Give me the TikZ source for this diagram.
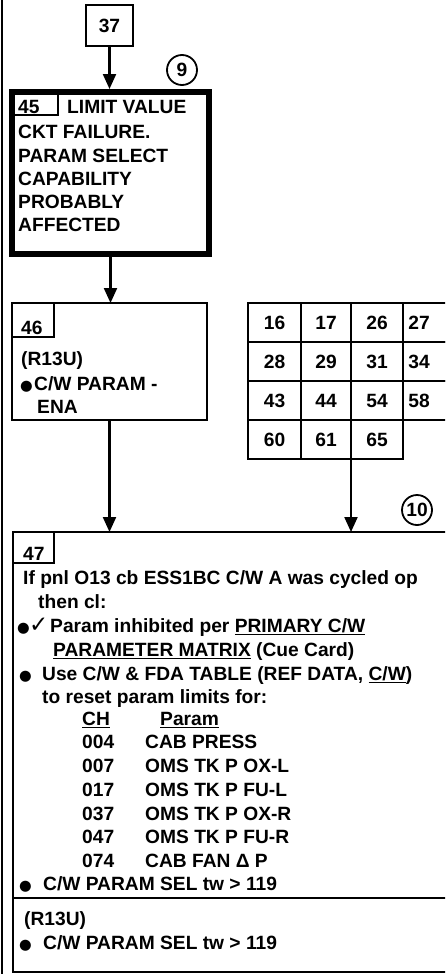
\documentclass[tikz,border=0pt]{standalone}
\usepackage{fontspec}
\setmainfont{Liberation Sans}
\newfontfamily\dvfont{DejaVu Sans}
\usetikzlibrary{arrows.meta,calc}
\newcommand{\fs}{\fontsize{19.2}{23}\selectfont\bfseries}
\newcommand{\bul}{{\dvfont\fontsize{14.5}{14.5}\selectfont ●}}
\newcommand{\chk}{{\dvfont\bfseries\fontsize{23}{23}\selectfont ✓}}
\newcommand{\ul}[1]{\setbox0\hbox{#1}\rlap{\rule[-3.2pt]{\wd0}{1.4pt}}\box0\relax}
\begin{document}
\begin{tikzpicture}[x=1pt,y=-1pt,
  txt/.style={anchor=base west, inner sep=0pt, font=\fs},
  boxthin/.style={draw, line width=1.8pt, anchor=north west, inner sep=0pt, outer sep=0pt},
  cell/.style={draw, line width=1.8pt, anchor=north west, inner sep=0pt, outer sep=0pt, minimum height=39pt, font=\fs},
  num/.style={inner sep=0pt, font=\fs},
  arr/.style={line width=2.2pt, -{Triangle[length=15pt,width=13pt]}},
  ring/.style={circle, draw, line width=1.8pt, minimum size=30pt, inner sep=0pt, font=\fs}]
\useasboundingbox (0,0) rectangle (445,974);
\clip (0,0) rectangle (445,974);

% page rule
\draw[line width=1.5pt] (2,-5) -- (2,980);

% 37 and 45
\node[draw, line width=2.2pt, minimum width=47pt, minimum height=41pt, inner sep=0pt, outer sep=0pt, font=\fs] (b37) at (109.5,25.5) {37};
\node[ring] (k9) at (182,70) {9};
\node[draw, line width=6pt, anchor=north west, minimum width=197pt, minimum height=162pt, inner sep=0pt] (b45) at (9,89) {};
\node[boxthin, minimum width=46pt, minimum height=23pt] (n45) at (12,92) {};
\node[txt] (t45) at (18,113) {45};
\node[txt] (t45a) at (67,113) {LIMIT VALUE};
\node[txt] (t45b) at (18,138) {CKT FAILURE.};
\node[txt] (t45c) at (18,162) {PARAM SELECT};
\node[txt] (t45d) at (18,185) {CAPABILITY};
\node[txt] (t45e) at (18,208) {PROBABLY};
\node[txt] (t45f) at (18,231) {AFFECTED};
\draw[arr] (b37.south) -- (b37.south |- b45.north);

% 46
\node[boxthin, minimum width=195pt, minimum height=117pt] (b46) at (12,303) {};
\node[boxthin, minimum width=42pt, minimum height=34pt] (n46) at (12,303) {};
\node[txt] (t46) at (21,334) {46};
\node[txt] (t46a) at (21,365) {(R13U)};
\node[txt] (t46b) at (20,390) {\bul};
\node[txt] (t46c) at (34,390) {C/W PARAM -};
\node[txt] (t46d) at (37,413) {ENA};
\draw[arr] (b45.south) -- (b45.south |- b46.north);

% grid
\node[cell, minimum width=53pt] (c16) at (248,303) {16};
\node[cell, minimum width=50pt] (c17) at (301,303) {17};
\node[cell, minimum width=52pt] (c26) at (351,303) {26};
\node[cell, minimum width=57pt] (c27) at (403,303) {};
\node[cell, minimum width=53pt] (c28) at (248,342) {28};
\node[cell, minimum width=50pt] (c29) at (301,342) {29};
\node[cell, minimum width=52pt] (c31) at (351,342) {31};
\node[cell, minimum width=57pt] (c34) at (403,342) {};
\node[cell, minimum width=53pt] (c43) at (248,381) {43};
\node[cell, minimum width=50pt] (c44) at (301,381) {44};
\node[cell, minimum width=52pt] (c54) at (351,381) {54};
\node[cell, minimum width=57pt] (c58) at (403,381) {};
\node[cell, minimum width=53pt] (c60) at (248,420) {60};
\node[cell, minimum width=50pt] (c61) at (301,420) {61};
\node[cell, minimum width=52pt] (c65) at (351,420) {65};
\node[num] (n27) at ($(c27.west)+(16,0)$) {27};
\node[num] (n34) at ($(c34.west)+(16,0)$) {34};
\node[num] (n58) at ($(c58.west)+(16,0)$) {58};

% 47
\node[boxthin, minimum width=447pt, minimum height=440pt] (b47) at (13,532) {};
\node[boxthin, minimum width=41pt, minimum height=31pt] (n47) at (13,532) {};
\coordinate (dv) at (13,898);
\draw[line width=1.8pt] (dv) -- (dv -| b47.east);
\node[ring] (k10) at (417,510) {10};
\draw[arr] (b46.south) -- (b46.south |- b47.north);
\draw[arr] (c61.south east) -- (c61.south east |- b47.north);

\node[txt] (t47) at (23,560) {47};
\node[txt] (l1) at (23,584) {If pnl O13 cb ESS1BC C/W A was cycled op};
\node[txt] (l2) at (38,608) {then cl:};
\node[txt] (l3a) at (17,632) {\bul};
\node[txt] (l3b) at (29,632) {\chk};
\node[txt] (l3) at (50,632) {Param inhibited per \ul{PRIMARY C/W}};
\node[txt] (l4) at (53,656) {\ul{PARAMETER MATRIX} (Cue Card)};
\node[txt] (l5a) at (19,680) {\bul};
\node[txt] (l5) at (42,680) {Use C/W \& FDA TABLE (REF DATA, \ul{C/W})};
\node[txt] (l6) at (42,703) {to reset param limits for:};
\node[txt] (h1) at (82,725) {\ul{CH}};
\node[txt] (h2) at (160,725) {\ul{Param}};
\node[txt] (r1a) at (82,748) {004};
\node[txt] (r1b) at (145,748) {CAB PRESS};
\node[txt] (r2a) at (82,772) {007};
\node[txt] (r2b) at (145,772) {OMS TK P OX-L};
\node[txt] (r3a) at (82,796) {017};
\node[txt] (r3b) at (145,796) {OMS TK P FU-L};
\node[txt] (r4a) at (82,820) {037};
\node[txt] (r4b) at (145,820) {OMS TK P OX-R};
\node[txt] (r5a) at (82,843) {047};
\node[txt] (r5b) at (145,843) {OMS TK P FU-R};
\node[txt] (r6a) at (82,867) {074};
\node[txt] (r6b) at (145,867) {CAB FAN Δ P};
\node[txt] (l7a) at (19,890) {\bul};
\node[txt] (l7) at (43,890) {C/W PARAM SEL tw > 119};
\node[txt] (l8) at (24,925) {(R13U)};
\node[txt] (l9a) at (19,949) {\bul};
\node[txt] (l9) at (43,949) {C/W PARAM SEL tw > 119};
\end{tikzpicture}
\end{document}
